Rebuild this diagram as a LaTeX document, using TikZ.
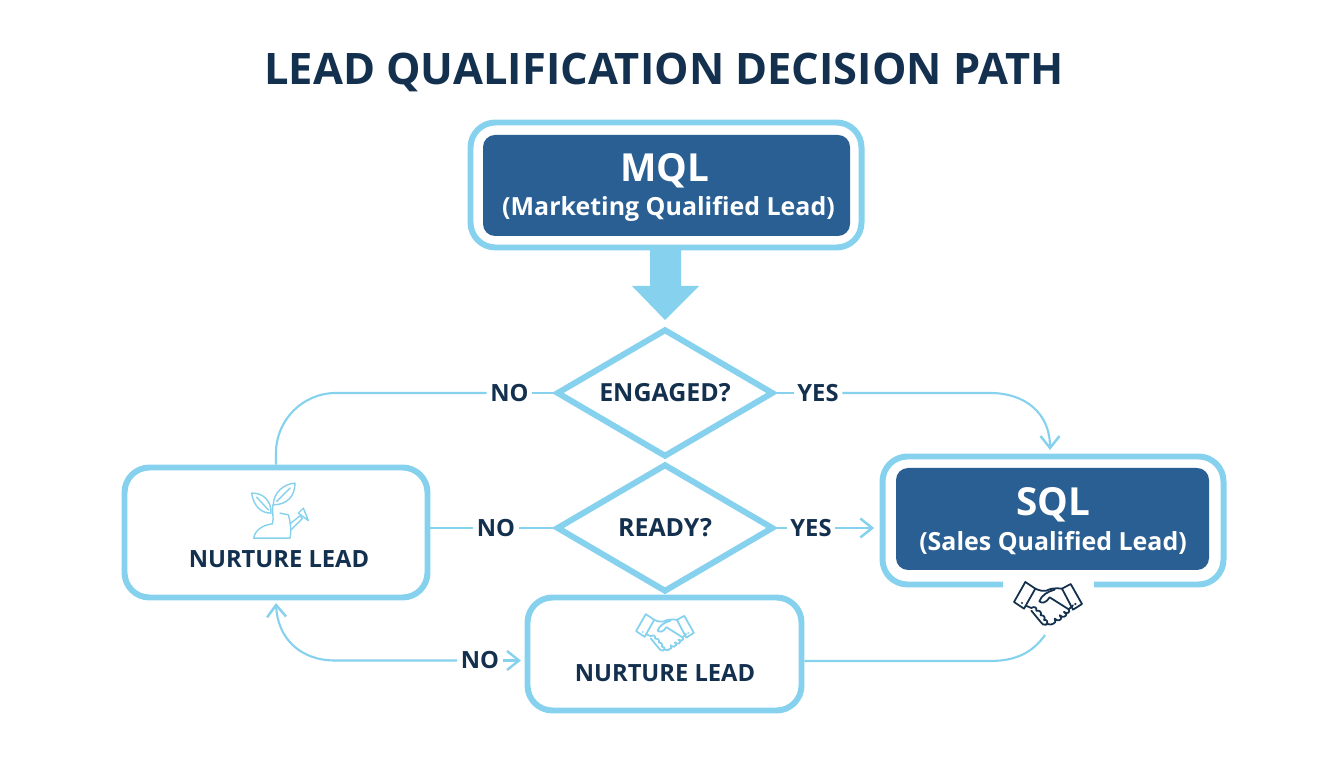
\documentclass[tikz,border=0pt]{standalone}
\usepackage{fontspec}
\setmainfont{Open Sans}
\usetikzlibrary{shapes.geometric,arrows.meta}

\definecolor{skyline}{HTML}{86D2EE}
\definecolor{boxblue}{HTML}{2A5F93}
\definecolor{navytext}{HTML}{14304F}

\tikzset{
  outerbox/.style={draw=skyline,line width=3.4pt,fill=white,rounded corners=0.5cm,inner sep=0pt},
  innerbox/.style={fill=boxblue,rounded corners=0.24cm,inner sep=0pt},
  decision/.style={diamond,draw=skyline,line width=3.4pt,fill=white,aspect=1.7,inner sep=0pt,
    minimum width=4.34cm,minimum height=2.56cm,font=\bfseries\fontsize{14.2}{17}\selectfont,text=navytext},
  answer/.style={font=\bfseries\fontsize{13.5}{16}\selectfont,text=navytext,inner sep=2pt},
  boxtext/.style={font=\bfseries\fontsize{13.5}{16}\selectfont,text=navytext},
  bigtext/.style={font=\bfseries\fontsize{22}{26}\selectfont,text=white},
  subtext/.style={font=\bfseries\fontsize{14.2}{18}\selectfont,text=white},
  flow/.style={draw=skyline,line width=1.2pt},
  tip/.style={-{Straight Barb[length=2.4mm,width=3.8mm,line width=1.4pt]}},
  pics/handshake/.style={code={
    \begin{scope}[x=0.00667cm,y=-0.00667cm,shift={(-130,-85)},line join=round,line cap=round,draw=#1,line width=1pt]
      % Cuffs
      \draw (62,22) -- (92,42) -- (58,102) -- (28,82) -- cycle;
      \draw (172,42) -- (198,28) -- (232,88) -- (205,105) -- cycle;
      \fill[#1] (52,85) circle (3.5);
      \fill[#1] (212,88) circle (3.5);
      % Upper hand
      \draw (92,42) .. controls (105,48) and (115,50) .. (125,48) .. controls (140,40) and (155,40) .. (172,42);
      \draw (150,45) .. controls (130,50) and (110,62) .. (104,80) .. controls (112,88) and (125,84) .. (135,68)
        -- (192,104) .. controls (198,112) and (188,120) .. (178,112);
      % Fingers
      \draw (178,112) -- (185,118) .. controls (185,126) and (175,130) .. (165,122);
      \draw (165,122) -- (170,130) .. controls (168,138) and (158,140) .. (150,132);
      \draw (150,132) -- (152,142) .. controls (146,150) and (134,152) .. (125,146);
      \draw (66,94) -- (80,100) .. controls (88,94) and (98,98) .. (95,108) .. controls (104,106) and (112,112) .. (108,122)
        .. controls (116,120) and (124,128) .. (118,136) .. controls (126,134) and (132,142) .. (125,150)
        .. controls (118,154) and (112,148) .. (108,142) -- (80,108);
      \draw (192,104) -- (205,92);
    \end{scope}
  }},
  pics/sprout/.style={code={
    \begin{scope}[x=0.00667cm,y=-0.00667cm,shift={(-105,-95)},line join=round,line cap=round,draw=#1,line width=0.8pt]
      % Leaves
      \draw (20,40) .. controls (50,38) and (80,60) .. (78,100) .. controls (45,100) and (25,75) .. (20,40) -- cycle;
      \draw (150,10) .. controls (150,50) and (125,75) .. (85,75) .. controls (85,40) and (115,12) .. (150,10) -- cycle;
      \draw (35,52) -- (70,90);
      \draw (135,25) -- (95,65);
      % Stem and soil
      \draw (84,75) .. controls (80,100) and (88,115) .. (82,132);
      \draw (26,175) .. controls (30,150) and (55,135) .. (82,132);
      \draw (26,175) -- (135,175) .. controls (140,150) and (135,120) .. (130,105) -- (105,100);
      % Can
      \draw (135,132) -- (165,108) -- (172,116) -- (138,150);
      \draw (160,100) -- (175,85) -- (190,122) -- cycle;
    \end{scope}
  }}
}

\begin{document}
\begin{tikzpicture}
  % Background
  \useasboundingbox (0,0) rectangle (26.88,15.36);
  \fill[white] (0,0) rectangle (26.88,15.36);

  % Title
  \node[font=\bfseries\fontsize{24.7}{30}\selectfont,text=navytext] (title) at (13.28,13.92) {LEAD QUALIFICATION DECISION PATH};

  % Boxes
  \node[outerbox,minimum width=7.82cm,minimum height=2.5cm] (mql) at (13.32,11.66) {};
  \node[innerbox,minimum width=7.34cm,minimum height=2.02cm] (mqlfill) at (13.33,11.65) {};
  \node[bigtext] (mqltext) at (13.3,11.94) {MQL};
  \node[subtext] (mqlsub) at (13.37,11.18) {(Marketing Qualified Lead)};

  \node[decision] (engaged) at (13.3,7.5) {ENGAGED?};
  \node[decision] (ready) at (13.3,4.8) {READY?};

  \node[outerbox,minimum width=6.06cm,minimum height=2.6cm] (nurture) at (5.52,4.71) {};
  \node[boxtext] (nurturetext) at (5.58,4.18) {NURTURE LEAD};
  \node[outerbox,minimum width=5.48cm,minimum height=2.26cm] (revisit) at (13.29,2.28) {};
  \node[boxtext] (revisittext) at (13.3,1.9) {NURTURE LEAD};

  \node[outerbox,minimum width=6.82cm,minimum height=2.56cm] (sql) at (21.06,4.95) {};
  \node[innerbox,minimum width=6.26cm,minimum height=2.04cm] (sqlfill) at (21.05,4.98) {};
  \node[bigtext] (sqltext) at (21.06,5.26) {SQL};
  \node[subtext] (sqlsub) at (21.06,4.5) {(Sales Qualified Lead)};
  \node[fill=white,inner sep=0pt,minimum width=1.82cm,minimum height=0.36cm] (sqlgap) at (20.97,3.7) {};

  % Big arrow
  \fill[skyline] (13,10.4) -- (13.62,10.4) -- (13.62,9.64) -- (13.98,9.64) -- (13.3,8.96) -- (12.64,9.64) -- (13,9.64) -- cycle;

  % Labels
  \node[answer] (noengaged) at (10.19,7.5) {NO};
  \node[answer] (yesengaged) at (16.36,7.5) {YES};
  \node[answer] (noready) at (9.92,4.8) {NO};
  \node[answer] (yesready) at (16.22,4.8) {YES};
  \node[answer] (norevisit) at (9.6,2.15) {NO};

  % Arrows
  \draw[flow] (engaged.west) -- (noengaged.east);
  \draw[flow,rounded corners=1.2cm] (noengaged.west) -| (nurture.north);
  \draw[flow] (engaged.east) -- (yesengaged.west);
  \coordinate (yesbend) at (19.8,7.5);
  \coordinate (sqltop) at (21,6.36);
  \draw[flow,tip] (yesengaged.east) -- (yesbend) .. controls (20.5,7.5) and (21,7.1) .. (sqltop);
  \draw[flow] (nurture.east |- noready) -- (noready.west);
  \draw[flow] (noready.east) -- (ready.west);
  \draw[flow] (ready.east) -- (yesready.west);
  \draw[flow,tip,shorten >=3pt] (yesready.east) -- (yesready -| sql.west);
  \coordinate (nurturebend) at (6.7,2.15);
  \coordinate (nurturefoot) at (5.52,3.3);
  \draw[flow,tip] (norevisit.west) -- (nurturebend) .. controls (6.0,2.15) and (5.55,2.6) .. (nurturefoot);
  \draw[flow,tip,shorten >=2pt] (norevisit.east) -- (norevisit -| revisit.west);
  \coordinate (sqlbend) at (19.8,2.14);
  \coordinate (sqlend) at (20.9,2.66);
  \draw[flow] (sqlbend -| revisit.east) -- (sqlbend) .. controls (20.3,2.14) and (20.65,2.3) .. (sqlend);

  % Icons
  \pic at (5.6,5.13) {sprout=skyline};
  \pic at (20.96,3.3) {handshake=navytext};
  \pic[scale=0.85] at (13.3,2.72) {handshake=skyline};
\end{tikzpicture}
\end{document}
